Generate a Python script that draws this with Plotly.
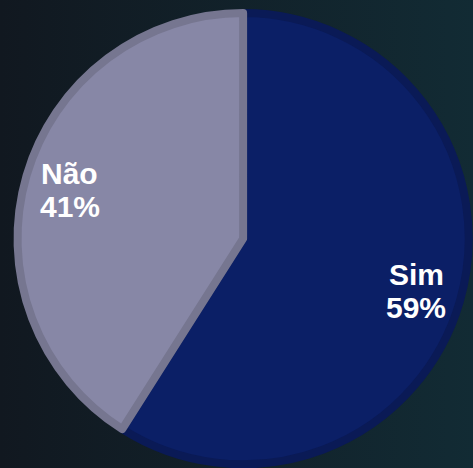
import math
import plotly.graph_objects as go

labels = ["Sim", "Não"]
values = [59, 41]
fill_colors = ["#0b1f66", "#8787a6"]
edge_colors = ["#0a1a56", "#767690"]

W, H = 473, 468
dom_x = [0.036, 0.992]
dom_y = [0.008, 0.972]

bg_svg = (
    "data:image/svg+xml;utf8,"
    "<svg xmlns='http://www.w3.org/2000/svg' width='473' height='468'>"
    "<defs><linearGradient id='g' x1='0' y1='0' x2='1' y2='0'>"
    "<stop offset='0' stop-color='%23111820'/>"
    "<stop offset='1' stop-color='%23122b34'/>"
    "</linearGradient></defs>"
    "<rect width='473' height='468' fill='url(%23g)'/></svg>"
)

fig = go.Figure(
    go.Pie(
        labels=labels,
        values=values,
        sort=False,
        direction="clockwise",
        rotation=0,
        marker=dict(colors=fill_colors, line=dict(color=edge_colors, width=8)),
        textinfo="none",
        hoverinfo="label+percent",
        domain=dict(x=dom_x, y=dom_y),
        showlegend=False,
    )
)

# label annotations placed along each slice's bisector
total = sum(values)
cx_px = (dom_x[0] + dom_x[1]) / 2 * W
cy_px = (dom_y[0] + dom_y[1]) / 2 * H
R = min((dom_x[1] - dom_x[0]) * W, (dom_y[1] - dom_y[0]) * H) / 2
k = 0.80
cum = 0
annotations = []
font = dict(family="Liberation Sans, Arial, sans-serif", size=30, color="white")
for lab, v in zip(labels, values):
    mid = (cum + v / 2) / total * 2 * math.pi
    cum += v
    x_px = cx_px + R * k * math.sin(mid)
    y_px = cy_px + R * k * math.cos(mid) - 2
    for txt, shift in ((f"<b>{lab}</b>", 16.5), (f"<b>{round(v / total * 100)}%</b>", -16.5)):
        annotations.append(dict(
            x=x_px / W, y=y_px / H, xref="paper", yref="paper",
            xanchor="center", yanchor="middle", yshift=shift,
            text=txt, showarrow=False, align="center", font=font,
        ))

fig.update_layout(
    width=W,
    height=H,
    margin=dict(l=0, r=0, t=0, b=0),
    paper_bgcolor="#12212a",
    plot_bgcolor="rgba(0,0,0,0)",
    images=[dict(source=bg_svg, xref="paper", yref="paper", x=0, y=1,
                 sizex=1, sizey=1, sizing="stretch", layer="below",
                 xanchor="left", yanchor="top")],
    annotations=annotations,
)

fig.write_html("out.html", config={"displayModeBar": False},
               post_script="document.body.style.margin='0';")
